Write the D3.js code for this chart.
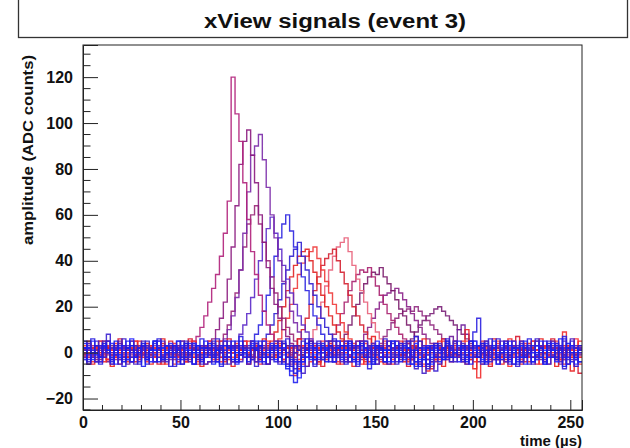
<!DOCTYPE html>
<html><head><meta charset="utf-8">
<script src="https://cdn.jsdelivr.net/npm/d3@7"></script>
<style>body{margin:0;background:#fff}svg{display:block}</style>
</head><body>
<script>
// ---- data (ADC counts per 2 µs bin, 128 bins over 0..256 µs) ----
const binWidth = 2;
const xTicks = [0, 50, 100, 150, 200, 250];
const yTicks = [-20, 0, 20, 40, 60, 80, 100, 120];
const titleText = "xView signals (event 3)";
const xTitle = "time (\u00b5s)";
const yTitle = "amplitude (ADC counts)";

const p1 = [1,-2,3,0,-1,2,-3,1,0,2,-1,-3,1,0,2,-1, 2,0,-2,1,3,-1,0,2,-2,1,0,3,4,7,11,16, 22,28,34,42,52,66,120,104,92,74,58,44,34,25,18,12, 8,5,3,1,2,-1,0,3,-2,1,0,-3,2,1,-1,0, -2,1,3,0,-1,2,-3,0,1,-2,2,1,0,-1,3,-2, 0,2,-1,1,-3,0,2,-1,1,3,0,-2,1,-1,2,0, -1,1,3,-2,0,2,-1,-3,1,0,2,-1,3,0,-2,1, 2,-1,0,1,-2,3,0,-1,2,-3,1,0,-1,2,0,-2];
const p2 = [-1,2,0,-3,1,3,-1,0,2,-2,1,0,-1,3,-2,1, 0,-1,2,1,-3,0,2,-1,1,3,-2,0,1,-1,2,0, 3,6,10,15,22,32,46,64,82,92,97,86,74,60,48,37, 28,21,15,10,7,4,2,1,0,-2,1,3,-1,0,2,-1, 1,-2,0,3,-1,2,0,-3,1,2,-1,0,3,-2,1,0, 2,0,-1,-3,1,2,0,-2,3,1,-1,0,-2,2,1,-1, 0,3,-1,1,-2,0,2,-1,-3,1,0,2,-1,3,0,-2, -1,2,0,-2,1,3,-1,0,2,-1,-3,1,2,0,-1,1];
const p3 = [2,0,-1,3,-2,1,0,-3,2,1,-1,0,3,-2,0,1, -2,1,3,0,-1,2,-3,0,1,-1,2,3,0,-2,1,0, -1,2,0,3,6,10,16,24,36,52,70,86,90,95,84,72, 60,50,40,31,24,18,13,9,6,4,2,1,0,-2,1,2, -1,0,2,-3,1,3,0,-1,2,-2,0,1,3,-1,-2,0, 1,2,-1,0,-3,1,2,-2,0,3,-1,1,0,-2,2,1, -2,0,1,3,-1,-2,2,0,1,-1,3,0,-2,1,0,2, 1,-1,2,0,-3,1,0,2,-1,3,-2,0,1,-1,2,0];
const p4 = [0,2,-2,1,3,-1,0,2,-3,1,0,-1,2,1,-2,0, 3,-1,0,2,-2,1,-1,0,3,2,-1,-3,0,1,2,-1, 0,1,3,5,8,12,18,26,36,46,56,60,64,56,48,40, 33,26,20,15,11,8,5,3,2,1,-1,2,0,-2,1,3, -1,0,2,-2,1,0,3,-1,-2,1,2,0,-3,1,0,2, 2,-1,0,1,-2,3,0,-1,1,2,-3,0,2,-1,1,0, -1,2,1,-3,0,2,-1,1,3,0,-2,1,-1,2,0,-2, 0,1,-2,2,1,-1,3,0,-2,1,0,-3,2,1,-1,0];
const p5 = [1,-1,2,0,-2,3,1,-1,0,2,-3,1,0,-1,2,1, -2,0,1,3,-1,0,2,-2,1,-1,0,2,3,-1,0,-2, 1,0,-1,2,0,1,3,5,8,12,17,24,32,40,48,54, 59,52,45,38,32,26,21,16,12,9,6,4,2,1,0,-2, 2,1,-1,0,3,-2,0,1,-1,2,0,-3,1,2,-1,0, -1,2,0,-2,1,3,-1,0,2,-1,1,0,-2,3,0,1, 2,-2,1,0,-1,3,0,-2,1,2,-1,0,3,-1,-2,1, 0,1,-1,2,0,-2,3,1,-1,0,2,-3,1,0,2,-1];
const p6 = [-2,1,0,3,-1,2,0,-2,1,-1,3,0,-2,1,2,-1, 0,2,-1,1,-3,0,2,1,-1,0,3,-2,1,0,-1,2, 1,-1,0,2,-2,1,3,0,-1,2,3,5,8,12,18,25, 33,42,50,56,60,53,46,39,33,27,21,16,12,8,5,3, 2,1,0,-2,1,3,-1,0,2,-1,1,-3,0,2,1,-1, 0,2,-1,1,3,-2,0,1,-1,2,0,-2,1,3,-1,0, 1,-1,2,0,-2,1,3,-1,0,2,-3,1,0,-1,2,1, -2,0,1,2,-1,3,0,-2,1,0,2,-1,-3,1,2,0];
const p7 = [2,0,-1,1,3,-2,0,1,-1,2,0,-3,1,2,-1,0, -1,2,1,-2,0,3,-1,0,2,1,-2,0,1,-1,3,0, 2,-1,0,1,-2,2,0,3,-1,1,0,-2,2,3,5,8, 12,17,23,30,36,42,45,48,42,36,30,25,20,15,11,8, 5,3,2,1,-1,0,2,-2,1,3,0,-1,2,-2,1,0, -1,1,3,0,-2,2,-1,0,1,-3,2,0,-1,2,1,-2, 0,2,-1,1,3,-1,0,-2,2,1,-1,0,3,-2,1,0, 1,-2,0,2,-1,1,0,3,-2,0,1,-1,2,0,-3,1];
const p8 = [0,-2,1,3,-1,0,2,-1,1,-3,0,2,1,-1,0,3, 1,0,-2,2,1,-1,3,0,-2,1,0,2,-1,-3,1,2, -1,2,0,1,-2,3,1,-1,0,2,-1,1,3,-2,0,3, 5,9,14,20,27,33,38,42,44,45,40,35,30,25,20,16, 12,9,6,4,2,1,0,-2,1,2,-1,3,0,-2,1,0, 2,-1,1,0,-3,2,1,-1,0,3,-2,1,0,2,-1,1, -1,0,2,-2,1,3,0,-1,2,0,-3,1,2,-1,0,2, 1,-1,0,3,-2,0,2,1,-1,0,2,-2,1,3,0,-1];
const p9 = [1,2,-1,0,-2,1,3,-1,0,2,-2,1,0,-1,2,0, -2,1,0,3,-1,2,0,-2,1,0,3,-1,-2,1,0,2, 0,-1,2,1,-3,0,2,-1,1,3,0,-2,1,0,2,-1, 1,3,6,10,15,21,28,34,39,42,44,46,41,36,31,26, 21,17,13,9,6,4,2,1,-1,0,2,-2,1,3,0,-1, 2,0,-1,1,-2,3,0,1,-1,2,0,-3,1,0,2,-1, 0,1,3,-1,-2,0,2,1,-1,0,3,-2,0,1,-1,2, -1,2,0,1,-2,0,3,-1,1,2,0,-2,1,-1,0,3];
const p10 = [-1,0,2,1,-2,0,3,-1,1,0,-2,2,1,-1,0,3, 2,-1,0,-2,1,3,0,-1,2,1,-3,0,1,2,-1,0, 1,2,-1,0,3,-2,0,1,-1,2,0,-2,1,3,-1,0, 2,-1,1,0,-2,2,3,6,10,15,21,27,33,38,41,43, 45,40,35,30,25,20,16,12,9,6,4,2,1,0,-2,1, 3,-1,0,2,-2,1,0,-1,3,0,-2,1,2,-1,0,1, -2,1,2,0,-1,3,-2,0,1,-1,2,0,-3,1,2,0, 1,-1,0,2,1,-2,0,3,-1,0,2,-1,1,-2,0,2];
const p11 = [0,1,-2,2,0,-1,3,1,-2,0,1,-1,2,0,-3,1, 2,0,-1,1,3,-2,0,2,-1,1,0,-2,3,1,-1,0, -1,2,0,-2,1,0,3,-1,2,0,-1,1,-2,2,0,1, 3,-1,0,2,-2,1,0,-1,2,3,6,10,15,22,29,36, 42,46,48,50,44,38,32,27,22,17,13,9,6,4,2,1, 0,-2,1,2,-1,3,0,-2,1,0,2,-1,1,-3,0,2, 1,0,-1,2,0,-2,3,1,-1,0,2,-2,1,0,3,-1, -2,1,0,3,-1,0,2,-1,1,-2,0,2,1,-1,0,3];
const p12 = [1,-1,0,2,-2,1,3,0,-1,2,0,-2,1,-1,3,0, -2,0,2,1,-1,0,3,-2,1,0,-1,2,0,1,-3,2, 0,1,-1,3,0,-2,1,2,-1,0,2,-1,1,-2,0,3, -1,0,2,1,-2,0,3,-1,1,0,-2,2,0,1,3,5, 8,12,17,22,27,31,34,36,35,37,33,29,25,21,17,14, 11,8,6,4,3,2,1,0,-1,2,-2,1,0,3,-1,0, 2,-1,1,0,-2,2,0,-1,3,1,-2,0,1,-1,2,0, -1,2,0,1,-2,0,3,-1,0,2,-1,1,-2,0,2,1];
const p13 = [0,2,-1,1,-3,0,2,1,-1,0,3,-2,0,1,-1,2, 1,-1,0,2,-2,1,0,3,-1,-2,1,0,2,-1,0,1, -2,0,1,2,-1,3,0,-2,1,0,-1,2,1,-3,0,1, 2,-1,0,1,3,-2,0,1,-1,2,0,-2,1,3,-1,0, 2,3,5,8,12,16,21,26,30,33,35,34,37,33,30,27, 23,19,16,12,9,7,5,3,2,1,-1,0,2,-2,1,0, -1,2,1,0,-2,3,0,-1,1,2,-2,0,1,-1,3,0, 2,0,-1,1,-2,0,2,3,-1,0,1,-2,2,0,-1,1];
const p14 = [-1,1,0,2,-2,0,3,-1,1,0,-2,2,1,-1,0,3, 0,-2,1,2,-1,0,1,3,-2,0,2,-1,1,0,-3,2, 1,0,-1,2,1,-2,0,3,-1,1,0,-2,2,0,1,-1, 0,2,-1,1,-2,3,0,-1,2,0,1,-3,1,2,-1,0, 2,-1,0,1,-2,2,3,5,8,11,15,19,22,25,26,27, 28,26,23,20,17,14,11,8,6,4,3,2,1,0,-2,1, 2,0,-1,3,-2,1,0,-1,2,1,-3,0,2,-1,1,0, -1,2,1,0,-2,0,3,-1,1,-2,0,2,0,1,-1,2];
const p15 = [2,0,-1,1,-2,3,0,-1,1,2,-2,0,1,-1,3,0, -1,1,2,0,-2,1,0,-3,2,1,-1,0,2,-2,1,3, 0,-1,1,2,-2,0,3,-1,1,0,-2,2,1,-1,0,2, 1,0,-2,1,3,-1,0,2,-1,1,-2,0,2,1,-1,0, -1,2,0,1,-2,1,3,0,-1,2,0,2,4,7,10,13, 15,17,18,19,18,20,18,16,14,12,10,8,6,4,3,2, 1,0,-1,2,-2,1,0,3,-1,0,2,-2,1,-1,0,2, 0,1,-2,2,1,-1,0,3,-2,0,1,-1,2,0,-2,1];
const p16 = [1,-1,2,0,-2,1,0,3,-1,1,0,-2,2,0,1,-1, 0,2,-1,1,-3,0,2,1,-1,0,2,-1,1,3,-2,0, -1,0,2,1,-2,3,0,-1,1,0,-2,2,1,-1,0,2, 2,-1,0,1,-2,0,3,1,-1,2,0,-2,1,0,-1,3, 0,1,-1,2,-2,0,1,3,-1,0,2,-1,1,-2,0,2, 1,-1,2,4,6,9,12,14,16,17,19,20,18,16,14,12, 10,8,6,4,3,2,1,0,-2,1,3,-1,0,2,-1,1, -2,0,1,2,-1,3,0,-1,1,-2,2,0,1,-1,0,2];

const n1 = [4,-3,6,-1,-5,2,5,-4,1,3,-6,2,5,-2,-4,3, -5,1,4,6,2,-3,-6,0,5,2,-2,4,-5,1,6,2, 2,5,-4,-6,1,3,2,-3,7,0,-5,-3,2,5,-1,-2, 0,-4,2,5,-2,-6,3,1,-4,6,2,-5,0,4,-2,5, 6,2,-2,-5,3,0,-4,5,2,-7,-2,3,1,-4,5,2, -2,4,0,-5,5,7,2,-3,-6,1,3,-2,2,6,-4,0, 5,-3,-2,2,9,15,-4,3,6,2,-5,1,4,-2,2,-5, -4,2,6,3,-2,0,5,-5,-2,4,1,7,2,-4,-6,1];
const n2 = [-2,4,-5,2,0,5,-3,-6,2,4,1,-2,5,-4,2,0, 4,-5,-2,1,6,3,-2,-5,0,2,-4,5,2,-2,-6,3, 1,2,5,-2,-4,0,-6,3,2,-2,5,1,-4,2,6,-5, 2,-2,0,4,-5,2,-4,-7,3,1,5,-2,-4,2,0,4, -4,1,5,2,-2,-6,0,3,-5,2,7,1,-2,-5,3,2, 5,-2,-4,1,3,-5,2,6,0,-4,-2,5,-6,1,3,-2, 1,5,10,-3,-7,0,4,2,-2,6,1,-5,2,-3,5,1, -5,2,4,-2,1,6,-3,2,5,-6,1,3,-2,-8,2,5];
const n3 = [2,-4,1,5,3,-2,8,2,0,-3,6,2,-2,1,-5,3, 5,0,-4,2,-2,3,1,-6,2,5,-3,0,4,-2,2,-5, -4,2,6,0,-2,-5,3,2,-4,1,2,5,-6,3,0,-2, 3,1,-5,2,6,-2,0,-4,5,2,-2,-6,3,0,2,-4, 1,5,-2,-4,2,3,-6,0,5,-2,-3,2,1,6,-5,-2, -5,2,4,-2,1,-4,5,2,-7,-4,-8,-5,1,3,-2,5, 2,-4,0,5,-2,3,-5,1,2,-3,6,2,-2,5,0,-6, 3,-2,-5,1,6,2,-4,5,-2,1,3,-7,2,5,-3,0];
const n4 = [1,5,-2,3,-4,0,2,-5,3,6,-2,1,-4,2,5,-2, -3,2,0,-5,4,2,5,-2,-4,1,2,6,-2,-5,0,3, 5,-2,-3,2,0,6,-4,-2,1,3,-5,2,4,-3,2,0, -2,4,5,-3,0,2,-2,6,-5,1,3,-2,2,-6,0,5, 2,-5,1,3,-4,2,5,-2,0,-4,2,3,-2,5,-5,1, 3,0,-2,-6,2,5,-4,1,-5,-7,-3,2,6,-2,0,3, -2,3,-5,1,2,-2,5,3,-6,2,0,-3,5,-2,3,7, 1,-4,2,5,-5,3,-2,0,6,-3,2,-5,3,1,-6,-9];
const n5 = [-3,1,2,-2,5,3,-4,0,-2,5,2,-5,1,3,-2,2, 0,3,-2,5,-4,-2,2,1,3,-5,0,2,5,-3,-2,1, 2,-2,3,0,-5,2,3,-4,1,5,-2,-3,2,0,3,-5, 3,2,-4,1,2,-5,0,3,-2,2,5,1,-4,2,-2,3, -2,0,3,-4,5,2,-2,1,-3,3,2,-5,0,2,3,-2, 2,-3,5,1,-2,3,-5,-2,2,0,-4,3,2,-2,7,4, 10,12,8,5,-2,-4,2,5,0,-3,2,-2,3,1,-5,2, 1,3,-2,2,5,-3,0,-2,3,2,-5,1,2,-3,3,0];
const n6 = [5,2,-3,0,-2,3,1,-5,2,-2,3,5,-4,0,2,-6, -2,1,5,2,-3,3,-2,0,5,-3,2,1,-5,3,2,-2, 1,-5,2,3,-2,0,5,-4,2,-2,1,3,5,-2,-4,0, 2,3,-2,-5,-7,-10,-13,-8,-4,4,-3,2,-2,3,1,-2, -4,2,1,5,-2,-4,3,0,2,-5,3,2,-2,1,-4,5, 1,-2,3,2,-5,-6,-3,2,-5,3,-2,-4,2,-2,3,0, 3,2,-2,-5,1,3,2,-4,-2,5,0,-3,2,3,-5,2, -2,5,0,-4,3,-2,-5,2,1,3,6,-2,-5,3,2,-4];
const n7 = [-2,-5,2,3,0,-4,5,2,-2,1,3,-4,2,5,-2,0, 2,3,-2,1,-5,2,3,-2,0,5,-4,-2,2,1,3,-5, -4,1,2,5,-2,-3,0,2,3,-2,-5,1,3,2,-2,5, 1,-2,3,-4,2,-6,-10,-7,-3,2,0,3,-5,2,3,1, 3,2,-5,0,2,-2,3,5,-4,1,-2,2,3,-4,0,-5, -2,5,1,-4,2,3,-2,-5,-8,-6,-3,1,5,2,-4,0, 2,-4,3,2,-2,-11,-5,3,2,-2,5,1,-4,6,2,-2, 5,1,-4,2,-2,3,0,-5,2,5,-3,9,3,-2,1,-5];
const n8 = [1,4,-2,-4,2,5,0,-2,3,-5,2,1,-4,3,2,5, -3,2,5,1,-2,-4,3,2,0,-2,5,-4,2,1,-5,3, 2,-4,1,2,5,-2,-4,3,0,2,-2,5,-4,1,2,-2, -2,5,2,-4,0,3,-7,-5,-9,-6,-2,2,5,-3,1,2, 5,-2,1,3,-4,2,-2,0,5,3,-5,1,2,-2,3,1, -4,1,2,5,-2,-7,-5,-9,-3,2,0,3,-2,5,2,-4, 1,3,-5,2,3,-2,0,5,-4,2,-2,1,3,-5,2,3, -4,2,1,-2,5,3,-4,0,2,-2,3,5,-5,2,0,-4];
const n9 = [-3,2,5,-1,-4,3,0,4,-5,2,1,-3,6,-2,0,3, 2,-4,1,5,-3,0,4,-2,-5,3,1,-2,4,0,-3,5, -1,3,-4,2,5,-2,1,-5,3,0,-2,4,1,-4,5,-2, 4,-3,0,2,-5,-8,-4,-11,-6,-2,3,-1,4,-3,2,0, -2,5,-3,1,4,-1,-5,3,0,2,-4,5,-2,1,3,-4, 5,0,-3,2,-1,4,-4,1,3,-5,2,0,-3,4,1,-2, -4,1,3,-2,5,0,-3,4,-1,2,-5,3,1,-4,5,-2, 3,-5,2,0,-3,5,1,-2,4,-4,0,6,-2,3,-5,2];
const n10 = [3,0,-4,2,5,-2,-3,1,4,-5,2,0,-2,5,-3,1, -4,3,2,-1,0,-5,3,4,-2,1,-3,2,5,-4,0,2, 5,-3,0,-4,2,1,-2,4,-3,5,0,-2,3,-5,1,4, -2,1,4,-3,-1,2,-5,-3,3,-6,-4,0,2,5,-3,1, 0,-4,2,5,-2,3,-1,-5,4,0,3,-2,-4,2,5,-3, -2,4,1,-3,5,-1,2,-6,-3,2,4,-5,0,3,-2,5, 2,-3,5,-1,-4,2,0,3,-5,1,4,-2,3,-6,2,0, -3,4,-2,5,1,-5,3,-2,0,4,-3,2,-5,1,6,-2];
const n11 = [-2,3,1,-4,2,0,5,-3,-1,4,-2,3,0,-5,2,1, 3,-2,-4,2,5,-1,0,3,-3,-2,4,1,-5,2,3,-1, 0,4,-2,1,-3,5,2,-4,0,3,-1,-2,4,2,-5,1, -3,2,5,-1,0,-4,-3,-6,2,-2,4,1,-3,0,5,-2, 2,-1,-4,3,1,-3,5,2,-2,0,4,-5,3,1,-2,4, -1,3,-2,5,0,-4,2,3,-5,1,-2,4,0,-3,2,5, -2,4,-3,0,5,-2,1,-4,3,2,-1,5,-4,0,3,-3, 4,-1,0,-5,3,2,-3,1,5,-2,-4,2,0,6,-3,1];
const n12 = [2,-5,0,3,-2,4,1,-3,5,-1,-4,2,3,-2,0,4, -3,1,5,-4,2,0,-2,3,1,-5,4,-1,0,3,-4,2, 4,-2,1,-5,3,2,-3,0,5,-1,-4,2,1,3,-2,-5, 1,3,-2,4,-6,-3,-9,-4,-2,1,5,-3,0,2,-4,3, -4,2,3,-1,5,-3,0,4,-2,1,-5,3,2,-4,1,5, 3,-4,0,2,-5,1,-6,-3,2,-2,4,1,-3,5,-2,0, -1,3,-4,5,2,-2,4,-5,1,3,-2,0,5,-3,2,-4, 5,-2,3,-4,0,2,-5,4,1,-3,2,-6,4,0,-2,3];

const traces = [
  {values: p16, color: "#7a2078"}, {values: p15, color: "#902a80"},
  {values: p14, color: "#8a2088"}, {values: p13, color: "#7a1a6a"},
  {values: p12, color: "#a8206e"}, {values: p11, color: "#e8607a"},
  {values: p10, color: "#d42030"}, {values: p9, color: "#ee3a3a"},
  {values: p8, color: "#e02222"}, {values: p7, color: "#3020d0"},
  {values: p6, color: "#2a22e0"}, {values: p5, color: "#5a28c8"},
  {values: p4, color: "#9a2878"}, {values: p3, color: "#7a2aa8"},
  {values: p2, color: "#8b1a7e"}, {values: p1, color: "#b0207a"},
  {values: n5, color: "#6a1a9a"}, {values: n2, color: "#e82020"},
  {values: n4, color: "#d81a30"}, {values: n10, color: "#ff3030"},
  {values: n7, color: "#f02a2a"}, {values: n11, color: "#5020c0"},
  {values: n3, color: "#3a20d0"}, {values: n9, color: "#2828ff"},
  {values: n1, color: "#2a1fe0"}, {values: n8, color: "#4020c8"},
  {values: n12, color: "#1a1ae8"}, {values: n6, color: "#2020f0"}
];

// ---- drawing ----
const W = 630, H = 448;
const frame = {left: 83, right: 582, top: 45, bottom: 410};
const svg = d3.select("body").append("svg").attr("width", W).attr("height", H);
const font = "'Liberation Sans', Arial, Helvetica, sans-serif";

const x = d3.scaleLinear().domain([0, 256]).range([frame.left, frame.right]);
const y = d3.scaleLinear().domain([-25, 134]).range([frame.bottom, frame.top]);

// title box
svg.append("rect").attr("x", 18.5).attr("y", -5).attr("width", 609).attr("height", 42.5)
  .attr("fill", "#fff").attr("stroke", "#333").attr("stroke-width", 1.3);
svg.append("text").attr("x", 335).attr("y", 28).attr("text-anchor", "middle")
  .attr("font-family", font).attr("font-weight", "bold").attr("font-size", 20)
  .attr("textLength", 262).attr("lengthAdjust", "spacingAndGlyphs")
  .attr("fill", "#111").text(titleText);

svg.append("defs").append("clipPath").attr("id", "clip").append("rect")
  .attr("x", frame.left).attr("y", frame.top)
  .attr("width", frame.right - frame.left).attr("height", frame.bottom - frame.top);

const line = d3.line().x(d => x(d[0])).y(d => y(d[1])).curve(d3.curveStepAfter);
const g = svg.append("g").attr("clip-path", "url(#clip)");
traces.forEach(t => {
  const pts = t.values.map((v, i) => [i * binWidth, v]);
  pts.push([t.values.length * binWidth, t.values[t.values.length - 1]]);
  g.append("path").attr("d", line(pts)).attr("fill", "none")
    .attr("stroke", t.color).attr("stroke-width", 1.4).attr("stroke-opacity", 0.9);
});

// frame
svg.append("rect").attr("x", frame.left).attr("y", frame.top)
  .attr("width", frame.right - frame.left).attr("height", frame.bottom - frame.top)
  .attr("fill", "none").attr("stroke", "#222").attr("stroke-width", 1);

// x axis (ticks inside)
const xAxis = d3.axisBottom(x).tickValues(xTicks).tickSize(-10).tickPadding(7)
  .tickFormat(d3.format("d"));
const gx = svg.append("g").attr("transform", `translate(0,${frame.bottom})`).call(xAxis);
const xMinor = d3.range(0, 257, 10).filter(v => v % 50 !== 0);
gx.selectAll(".minor").data(xMinor).enter().append("line")
  .attr("x1", d => x(d)).attr("x2", d => x(d)).attr("y1", 0).attr("y2", -5)
  .attr("stroke", "#222");

// y axis (ticks inside)
const yAxis = d3.axisLeft(y).tickValues(yTicks).tickSize(-15).tickPadding(10)
  .tickFormat(d3.format("d"));
const gy = svg.append("g").attr("transform", `translate(${frame.left},0)`).call(yAxis);
const yMinor = d3.range(-25, 134, 5).filter(v => v % 20 !== 0);
gy.selectAll(".minor").data(yMinor).enter().append("line")
  .attr("y1", d => y(d)).attr("y2", d => y(d)).attr("x1", 0).attr("x2", 7.5)
  .attr("stroke", "#222");

[gx, gy].forEach(a => {
  a.select(".domain").attr("stroke", "#222");
  a.selectAll(".tick line").attr("stroke", "#222");
  a.selectAll("text").attr("font-family", font).attr("font-weight", "bold")
    .attr("font-size", 16).attr("fill", "#111");
});

// axis titles
svg.append("text").attr("x", frame.right).attr("y", 446).attr("text-anchor", "end")
  .attr("font-family", font).attr("font-weight", "bold").attr("font-size", 15)
  .attr("fill", "#111").text(xTitle);
svg.append("text").attr("transform", `translate(33,55) rotate(-90)`).attr("text-anchor", "end")
  .attr("font-family", font).attr("font-weight", "bold").attr("font-size", 15)
  .attr("textLength", 190).attr("lengthAdjust", "spacingAndGlyphs")
  .attr("fill", "#111").text(yTitle);
</script>
</body></html>
